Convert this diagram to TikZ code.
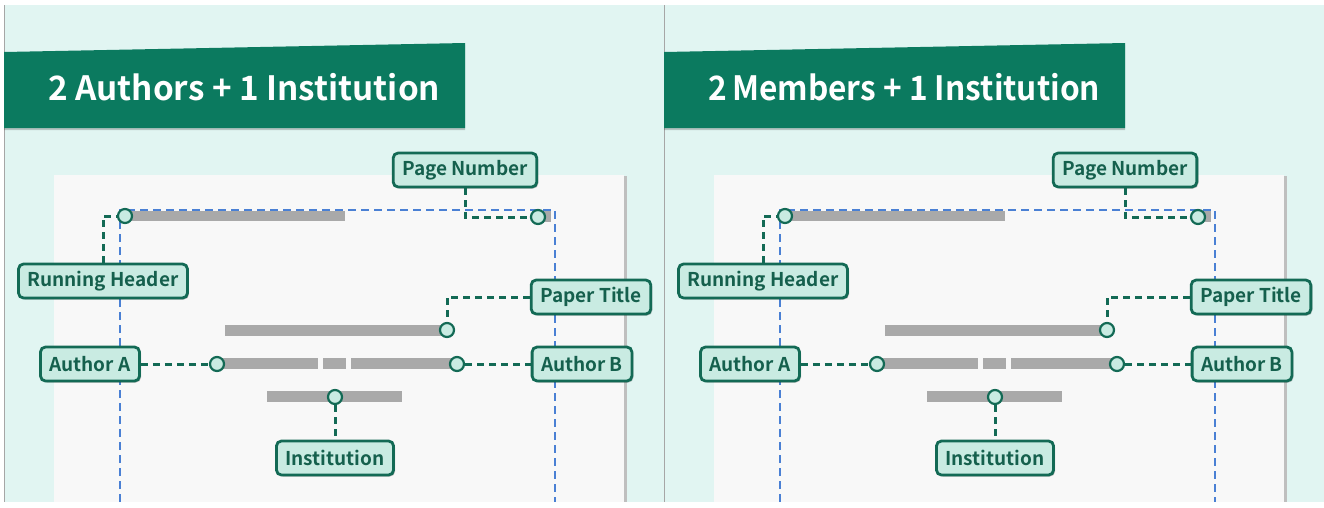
\documentclass[tikz,border=0pt]{standalone}
\usepackage{fontspec}
\setmainfont{Noto Sans CJK KR}[BoldFont={Noto Sans CJK KR Bold}]
\usetikzlibrary{shadows}
\definecolor{bgmint}{HTML}{E1F5F2}
\definecolor{banner}{HTML}{0B7A5F}
\definecolor{tagfill}{HTML}{C9EBE2}
\definecolor{tagline}{HTML}{136A55}
\definecolor{tagtext}{HTML}{15604D}
\definecolor{paper}{HTML}{F8F8F8}
\definecolor{bar}{HTML}{A9A9A9}
\definecolor{guide}{HTML}{4A80D4}
\begin{document}
\begin{tikzpicture}[x=1pt,y=-1pt,
  tag/.style={draw=tagline, line width=2.8pt, fill=tagfill, rounded corners=5pt,
    text=tagtext, font=\fontsize{19}{19}\selectfont\bfseries,
    minimum height=34pt, inner xsep=9pt, inner ysep=0pt,
    drop shadow={shadow xshift=1.5pt, shadow yshift=-1.5pt, opacity=0.25, fill=black}},
  dot/.style={circle, draw=tagline, line width=2.2pt, fill=tagfill,
    minimum size=14pt, inner sep=0pt},
  conn/.style={draw=tagline, line width=3pt, dash pattern=on 7pt off 5pt},
  guideline/.style={draw=guide, line width=1.2pt, dash pattern=on 8pt off 5pt},
  textbar/.style={fill=bar}]
\useasboundingbox (0,0) rectangle (1324,507);
\fill[white] (0,0) rectangle (1324,507);
\foreach \p/\dx/\ttl in {L/0/{2 Authors + 1 Institution}, R/660/{2\,Members + 1 Institution}} {
\begin{scope}[xshift=\dx pt]
  % panel background and frame
  \fill[bgmint] (4,5) rectangle (664,502);
  \draw[gray!70, line width=0.8pt] (4,5) -- (4,502);
  % title banner
  \fill[banner, drop shadow={shadow xshift=0pt, shadow yshift=-2pt, opacity=0.2, fill=black}]
    (4,52) -- (465,43) -- (465,128) -- (4,128) -- cycle;
  \node[anchor=base west, text=white, font=\fontsize{33.5}{34}\selectfont\bfseries, inner sep=0pt]
    (\p-title) at (48,100) {\resizebox{392pt}{\height}{\ttl}};
  % page
  \fill[black!25] (54,176) rectangle (627,502);
  \fill[paper] (54,175) rectangle (624,502);
  % margin guides
  \draw[guideline] (120,502) -- (120,210) -- (555,210) -- (555,502);
  % placeholder text lines
  \fill[textbar] (125,211) rectangle (345,221);
  \fill[textbar] (534,211) rectangle (551,222);
  \fill[textbar] (225,325) rectangle (447,336);
  \fill[textbar] (217,358) rectangle (318,369);
  \fill[textbar] (323,358) rectangle (346,369);
  \fill[textbar] (351,358) rectangle (457,369);
  \fill[textbar] (267,391) rectangle (402,402);
  % anchor dots
  \node[dot] (\p-c1) at (125,216) {};
  \node[dot] (\p-c2) at (538,217) {};
  \node[dot] (\p-c3) at (447,330) {};
  \node[dot] (\p-c4) at (217,364) {};
  \node[dot] (\p-c5) at (457,364) {};
  \node[dot] (\p-c6) at (335,397) {};
  % callout labels
  \node[tag] (\p-pn) at (465,170) {Page Number};
  \node[tag] (\p-rh) at (103,281) {Running Header};
  \node[tag] (\p-pt) at (591,297) {Paper Title};
  \node[tag] (\p-aa) at (90,364) {Author A};
  \node[tag] (\p-ab) at (582,364) {Author B};
  \node[tag] (\p-in) at (335,458) {Institution};
  % leader lines
  \draw[conn] (\p-pn.south) |- (\p-c2.west);
  \draw[conn] (\p-rh.north) |- (\p-c1.west);
  \draw[conn] (\p-pt.west) -| (\p-c3.north);
  \draw[conn] (\p-aa.east) -- (\p-c4.west);
  \draw[conn] (\p-c5.east) -- (\p-ab.west);
  \draw[conn] (\p-c6.south) -- (\p-in.north);
\end{scope}
}
\end{tikzpicture}
\end{document}
